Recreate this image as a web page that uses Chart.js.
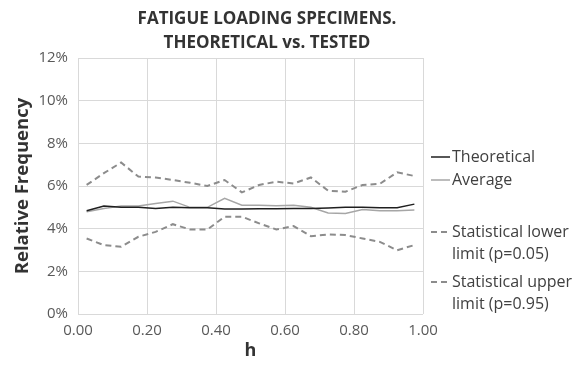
<!DOCTYPE html>
<html>
<head>
<meta charset="utf-8">
<script src="https://cdn.jsdelivr.net/npm/chart.js@4.4.1/dist/chart.umd.min.js"></script>
<style>
  html, body { margin: 0; padding: 0; background: #fff; }
  #wrap { width: 584px; height: 366px; }
</style>
</head>
<body>
<div id="wrap"><canvas id="chart" width="584" height="366"></canvas></div>
<script>
// ----- chart data -----
const hValues = [0.025, 0.075, 0.125, 0.175, 0.225, 0.275, 0.325, 0.375, 0.425, 0.475,
                 0.525, 0.575, 0.625, 0.675, 0.725, 0.775, 0.825, 0.875, 0.925, 0.975];
const theoretical = [4.84, 5.06, 5.00, 5.00, 4.95, 5.00, 4.98, 4.98, 4.92, 4.92,
                     4.93, 4.93, 4.95, 4.95, 4.97, 5.00, 5.00, 4.98, 4.98, 5.15];
const average = [4.79, 4.95, 5.06, 5.06, 5.18, 5.29, 5.00, 5.00, 5.42, 5.10,
                 5.10, 5.08, 5.10, 5.00, 4.74, 4.71, 4.90, 4.84, 4.84, 4.87];
const lowerLimit = [3.54, 3.23, 3.15, 3.62, 3.85, 4.21, 3.96, 3.96, 4.56, 4.56,
                    4.25, 3.96, 4.12, 3.65, 3.73, 3.70, 3.54, 3.38, 2.99, 3.23];
const upperLimit = [6.05, 6.60, 7.10, 6.44, 6.40, 6.28, 6.15, 6.00, 6.28, 5.70,
                    6.05, 6.20, 6.12, 6.40, 5.78, 5.73, 6.05, 6.10, 6.64, 6.47];
const seriesLabels = [['Theoretical'], ['Average'],
                      ['Statistical lower', 'limit (p=0.05)'],
                      ['Statistical upper', 'limit (p=0.95)']];
const titleLines = ['FATIGUE LOADING SPECIMENS.', 'THEORETICAL vs. TESTED'];

const FONT = '"Open Sans", "DejaVu Sans", sans-serif';
const pts = arr => arr.map((v, i) => ({ x: hValues[i], y: v }));

// title + legend drawn by hand (Excel style, legend labels wrap on two lines)
const excelDecor = {
    id: 'excelDecor',
    afterDraw(chart) {
        const ctx = chart.ctx;
        ctx.save();
        ctx.fillStyle = '#333';
        ctx.textAlign = 'center';
        ctx.textBaseline = 'middle';
        ctx.font = 'bold 17px ' + FONT;
        ctx.fillText(titleLines[0], 267, 19);
        ctx.fillText(titleLines[1], 267, 43);

        // legend
        const rows = [157, 180, 232, 282];
        ctx.textAlign = 'left';
        ctx.font = '16px ' + FONT;
        chart.data.datasets.forEach((ds, i) => {
            const y = rows[i];
            ctx.strokeStyle = ds.borderColor;
            ctx.lineWidth = ds.borderWidth;
            ctx.setLineDash(ds.borderDash || []);
            ctx.beginPath();
            ctx.moveTo(431, y);
            ctx.lineTo(450, y);
            ctx.stroke();
            ctx.setLineDash([]);
            ctx.fillStyle = '#404040';
            seriesLabels[i].forEach((t, k) => ctx.fillText(t, 452, y + k * 22));
        });
        ctx.restore();
    }
};

const ctx = document.getElementById('chart').getContext('2d');
new Chart(ctx, {
    type: 'line',
    data: {
        datasets: [
            { label: 'Theoretical', data: pts(theoretical), borderColor: '#1f1f1f', borderWidth: 1.5 },
            { label: 'Average', data: pts(average), borderColor: '#a6a6a6', borderWidth: 1.5 },
            { label: 'Statistical lower limit (p=0.05)', data: pts(lowerLimit), borderColor: '#8c8c8c', borderWidth: 2, borderDash: [6, 4] },
            { label: 'Statistical upper limit (p=0.95)', data: pts(upperLimit), borderColor: '#8c8c8c', borderWidth: 2, borderDash: [6, 4] }
        ]
    },
    options: {
        responsive: false,
        animation: false,
        layout: { padding: { left: 0, right: 161, top: 58, bottom: 0 } },
        elements: { point: { radius: 0 }, line: { tension: 0 } },
        plugins: { legend: { display: false }, title: { display: false }, tooltip: { enabled: false } },
        scales: {
            x: {
                type: 'linear', min: 0, max: 1,
                ticks: { stepSize: 0.2, color: '#595959', font: { family: FONT, size: 15 },
                         callback: v => v.toFixed(2), padding: 8 },
                grid: { color: '#d9d9d9', drawTicks: false },
                border: { display: false },
                title: { display: true, text: 'h', color: '#333', font: { family: FONT, size: 18, weight: 'bold' }, padding: { top: 4 } },
                afterFit: s => { s.height = 52; }
            },
            y: {
                min: 0, max: 12,
                ticks: { stepSize: 2, color: '#595959', font: { family: FONT, size: 15 },
                         callback: v => v + '%', padding: 10 },
                grid: { color: '#d9d9d9', drawTicks: false },
                border: { display: false },
                title: { display: true, text: 'Relative Frequency', color: '#333', font: { family: FONT, size: 18.5, weight: 'bold' }, padding: { top: 12, bottom: 0 } },
                afterFit: s => { s.width = 78; }
            }
        }
    },
    plugins: [excelDecor]
});
</script>
</body>
</html>
